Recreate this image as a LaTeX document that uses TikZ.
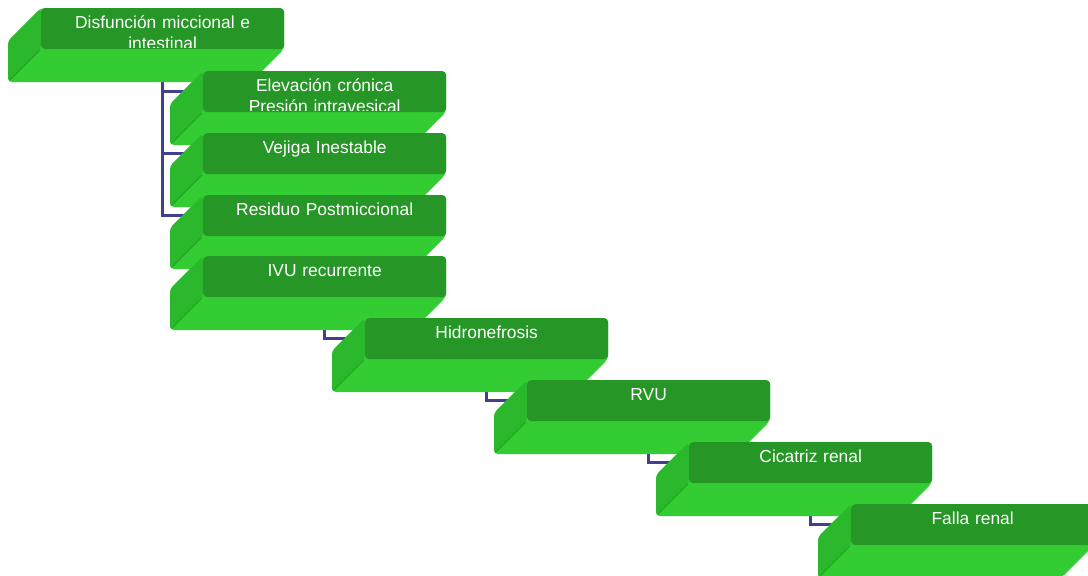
\documentclass[tikz,border=0pt]{standalone}
\usepackage{fontspec}
\setmainfont{Liberation Sans}
\usepackage{xcolor}
\usepackage{tikz}

\definecolor{verdeOscuro}{RGB}{38,150,38}
\definecolor{verdeClaro}{RGB}{51,204,51}
\definecolor{verdeLado}{RGB}{44,184,44}
\definecolor{azulLinea}{RGB}{64,64,144}

\pgfdeclarelayer{fondo}
\pgfsetlayers{fondo,main}

% bloque 3D: nombre, x, y (esquina de la tapa), texto
\newcommand{\bloque}[4]{%
    \fill[verdeClaro, rounded corners=4pt] (#2,#3) -- ++(243,0) -- ++(0,41) -- ++(-33,33) -- ++(-243,0) -- ++(0,-41) -- cycle;
    \fill[verdeLado, rounded corners=4pt] (#2,#3) -- ++(0,41) -- ++(-33,33) -- ++(0,-41) -- cycle;
    \draw[green!40!black, opacity=0.25, line width=1.2pt] ([shift={(-1,1)}]#2,#3) ++(0,41) -- ++(-31,31);
    \node[tapa, anchor=north west] (#1) at (#2,#3) {};
    \begin{scope}
        \clip ([yshift=1.6pt]#1.south west) rectangle (#1.north east);
        \node[texto, anchor=base] (#1-t) at ([yshift=-20.3pt]#1.north) {#4};
    \end{scope}
}

\begin{document}
\begin{tikzpicture}[x=1pt, y=-1pt,
    tapa/.style={rectangle, fill=verdeOscuro, minimum width=243pt, minimum height=41pt, inner sep=0pt, rounded corners=4pt},
    texto/.style={text=white, align=center, inner sep=0pt, text width=230pt, font=\fontsize{17.4}{21}\selectfont},
    conector/.style={azulLinea, line width=3.3pt}]
    \useasboundingbox (0,0) rectangle (1088,576);

    % Bloques
    \bloque{b1}{41}{8}{Disfunción miccional e\\intestinal}
    \bloque{b2}{203}{71}{Elevación crónica\\Presión intravesical}
    \bloque{b3}{203}{133}{Vejiga Inestable}
    \bloque{b4}{203}{195}{Residuo Postmiccional}
    \bloque{b5}{203}{256}{IVU recurrente}
    \bloque{b6}{365}{318}{Hidronefrosis}
    \bloque{b7}{527}{380}{RVU}
    \bloque{b8}{689}{442}{Cicatriz renal}
    \bloque{b9}{851}{504}{Falla renal}

    % Conectores
    \begin{pgfonlayer}{fondo}
        \draw[conector] (b1) |- (b2);
        \draw[conector] (b1) |- (b3);
        \draw[conector] (b1) |- (b4);
        \draw[conector] (b5) |- (b6);
        \draw[conector] (b6) |- (b7);
        \draw[conector] (b7) |- (b8);
        \draw[conector] (b8) |- (b9);
    \end{pgfonlayer}
\end{tikzpicture}
\end{document}
